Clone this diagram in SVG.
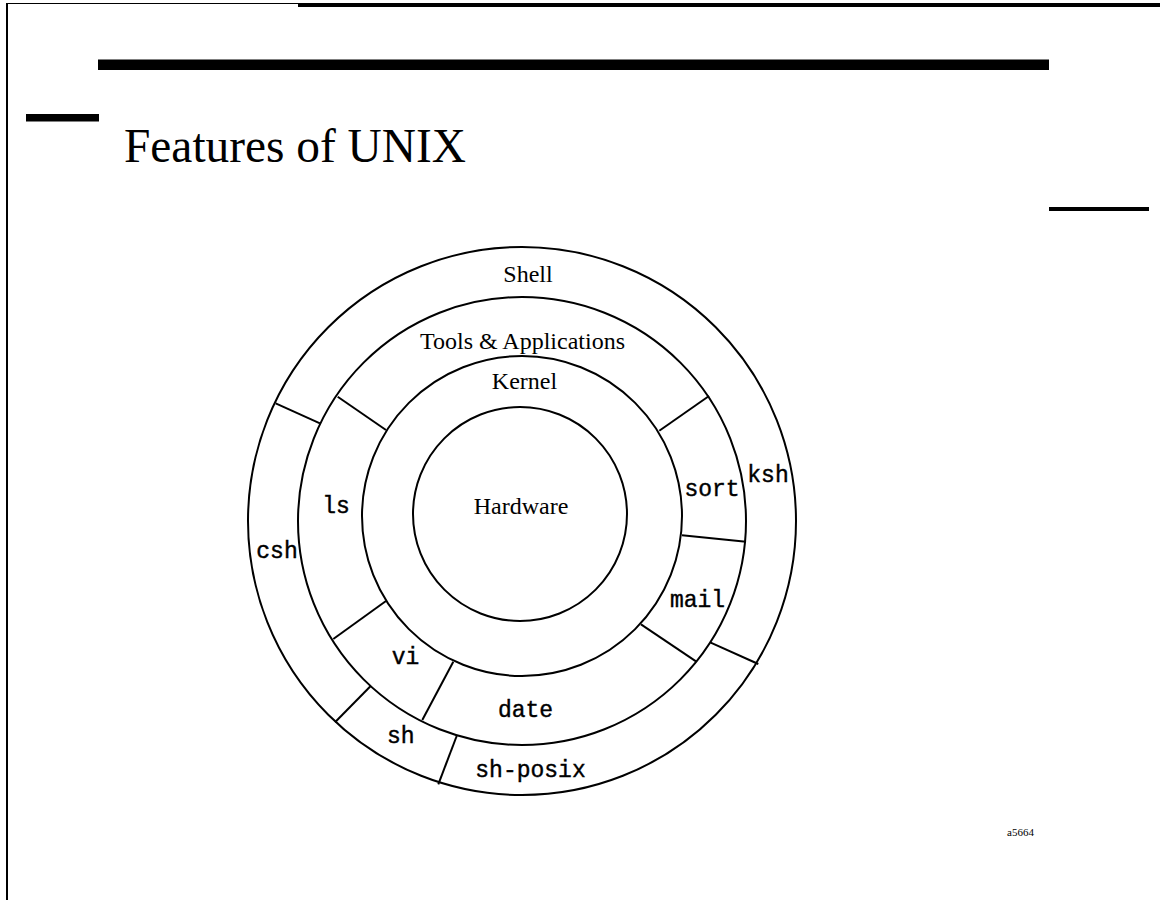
<svg xmlns="http://www.w3.org/2000/svg" width="1160" height="900" viewBox="0 0 1160 900">
<style>
.ring{fill:none;stroke:#000;stroke-width:2}
.div{stroke:#000;stroke-width:2;fill:none}
.serif{font-family:"Liberation Serif","DejaVu Serif",serif;fill:#000}
.lbl{font-size:24px;text-anchor:middle}
.mono{font-family:"Liberation Mono","DejaVu Sans Mono",monospace;font-size:23px;text-anchor:middle;fill:#000;stroke:#000;stroke-width:0.4}
</style>
<rect width="1160" height="900" fill="#fff"/>
<g id="frame">
<line x1="7" y1="3" x2="7" y2="900" stroke="#000" stroke-width="2"/>
<line x1="6" y1="3.5" x2="298" y2="3.5" stroke="#000" stroke-width="1.2"/>
<rect x="298" y="3" width="862" height="4" fill="#000"/>
<rect x="98" y="59.5" width="951" height="10.5" fill="#000"/>
<rect x="26" y="114" width="73" height="7.5" fill="#000"/>
<rect x="1049" y="207" width="100" height="4" fill="#000"/>
</g>
<text id="title" class="serif" x="124" y="162" font-size="48" textLength="342" lengthAdjust="spacingAndGlyphs">Features of UNIX</text>
<g id="shell">
<circle class="ring" cx="522" cy="521" r="274"/>
<text class="serif lbl" x="528" y="282">Shell</text>
</g>
<g id="tools">
<circle class="ring" cx="522" cy="521" r="224"/>
<text class="serif lbl" x="522.5" y="349">Tools &amp; Applications</text>
</g>
<g id="kernel">
<circle class="ring" cx="522" cy="516" r="160"/>
<text class="serif lbl" x="524.5" y="389">Kernel</text>
</g>
<g id="hardware">
<circle class="ring" cx="520" cy="514" r="107"/>
<text class="serif lbl" x="521" y="514">Hardware</text>
</g>
<g id="connectors">
<line class="div" x1="337.7" y1="396.7" x2="386" y2="430"/>
<line class="div" x1="709" y1="396" x2="659.3" y2="430.7"/>
<line class="div" x1="682" y1="535.3" x2="746" y2="541.7"/>
<line class="div" x1="641" y1="624.3" x2="696" y2="661.3"/>
<line class="div" x1="386" y1="601" x2="333.3" y2="639"/>
<line class="div" x1="453.3" y1="661.7" x2="422.3" y2="720"/>
<line class="div" x1="275.7" y1="403.3" x2="320" y2="423.3"/>
<line class="div" x1="710.7" y1="642.7" x2="758.3" y2="664"/>
<line class="div" x1="370.7" y1="686" x2="335" y2="722.3"/>
<line class="div" x1="456.7" y1="736" x2="438.3" y2="784.3"/>
</g>
<g id="ls"><text class="mono" x="336" y="513">ls</text></g>
<g id="sort"><text class="mono" x="712" y="496">sort</text></g>
<g id="mail"><text class="mono" x="697.5" y="607">mail</text></g>
<g id="vi"><text class="mono" x="405.5" y="664">vi</text></g>
<g id="date"><text class="mono" x="525.5" y="717">date</text></g>
<g id="csh"><text class="mono" x="277" y="558">csh</text></g>
<g id="ksh"><text class="mono" x="768" y="482">ksh</text></g>
<g id="sh"><text class="mono" x="400.7" y="743">sh</text></g>
<g id="sh-posix"><text class="mono" x="530.5" y="777">sh-posix</text></g>
<text id="ref" class="serif" x="1007" y="836" font-size="11">a5664</text>
</svg>
